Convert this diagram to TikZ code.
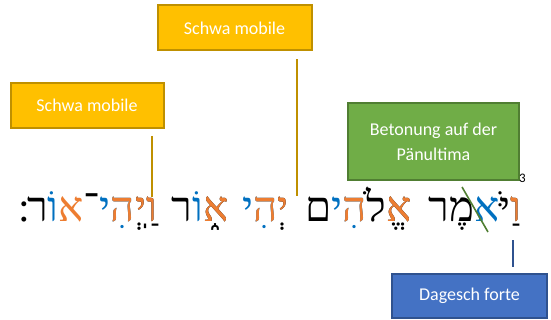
\documentclass[tikz,border=0pt]{standalone}
\usepackage{fontspec}
\setmainfont{Carlito}
\newfontfamily\hebfont[Script=Hebrew]{Liberation Serif}
\definecolor{goldfill}{HTML}{FFC000}
\definecolor{golddraw}{HTML}{BF9000}
\definecolor{greenfill}{HTML}{70AD47}
\definecolor{greendraw}{HTML}{507E32}
\definecolor{bluefill}{HTML}{4472C4}
\definecolor{bluedraw}{HTML}{2F528F}
\definecolor{horange}{HTML}{ED7D31}
\definecolor{hblue}{HTML}{0070C0}
\newcommand\hb[2]{\textcolor{#1}{#2}}
\newcommand\hm[4]{\rlap{\textcolor{#2}{#3#4}}\textcolor{#1}{#3}}
\tikzset{
  callout/.style={rectangle, line width=2pt, text=white, align=center,
    font=\fontsize{18}{25}\selectfont, inner sep=0pt},
  goldbox/.style={callout, fill=goldfill, draw=golddraw},
  greenbox/.style={callout, fill=greenfill, draw=greendraw},
  bluebox/.style={callout, fill=bluefill, draw=bluedraw},
  pointer/.style={line width=1.6pt}
}
\begin{document}
\begin{tikzpicture}[x=1pt,y=-1pt]
\useasboundingbox (0,0) rectangle (551,320);
% callout boxes
\node[goldbox, minimum width=153pt, minimum height=45pt] (s1) at (87,105.5) {Schwa mobile};
\node[goldbox, minimum width=154pt, minimum height=45pt] (s2) at (234.5,28) {Schwa mobile};
\node[greenbox, minimum width=171pt, minimum height=77pt] (bt) at (433.5,141.5) {Betonung auf der\\Pänultima};
\node[bluebox, minimum width=155pt, minimum height=44pt] (dg) at (469.5,295.5) {Dagesch forte};
% Hebrew verse
\node[anchor=base west, inner sep=0pt] (verse) at (18,222) {\hebfont\fontsize{42}{46}\selectfont
\hb{black}{׃}\hspace{9pt}\hb{black}{ר}\hb{hblue}{וֹ}\hb{horange}{א}\hb{black}{־}\hb{hblue}{י}\hm{horange}{hblue}{ה}{ִ}\hm{horange}{black}{י}{ְ}\hm{horange}{black}{ו}{ַֽ}\hspace{15pt}%
\hb{black}{ר}\hb{hblue}{וֹ}\hm{horange}{black}{א}{֑}\hspace{14pt}%
\hb{hblue}{י}\hm{horange}{hblue}{ה}{ִ}\hm{horange}{black}{י}{ְ}\hspace{17pt}%
\hb{black}{ם}\hb{hblue}{י}\hm{horange}{hblue}{ה}{ִ}\hb{black}{לֹ}\hm{horange}{black}{א}{ֱ}\hspace{17pt}%
\hb{black}{ר}\hb{black}{מֶ}\hb{hblue}{א}\hb{black}{יֹּ}\hm{horange}{black}{ו}{ַ}};
\node[anchor=base west, inner sep=0pt, font=\fontsize{13}{14}\selectfont] (vn) at (519,183) {3};
% pointer ends
\coordinate (p1) at (152,197);
\coordinate (p2) at (297,196);
\coordinate (p3) at (488,232);
\coordinate (p4) at (513,240);
\draw[pointer, golddraw] (s1.south -| p1) ++(0,7) -- (p1);
\draw[pointer, golddraw] (s2.south -| p2) ++(0,8) -- (p2);
\draw[pointer, greendraw] (bt.south -| 462,0) ++(0,6) -- (p3);
\draw[pointer, bluedraw] (dg.north -| p4) ++(0,-6) -- (p4);
\end{tikzpicture}
\end{document}
